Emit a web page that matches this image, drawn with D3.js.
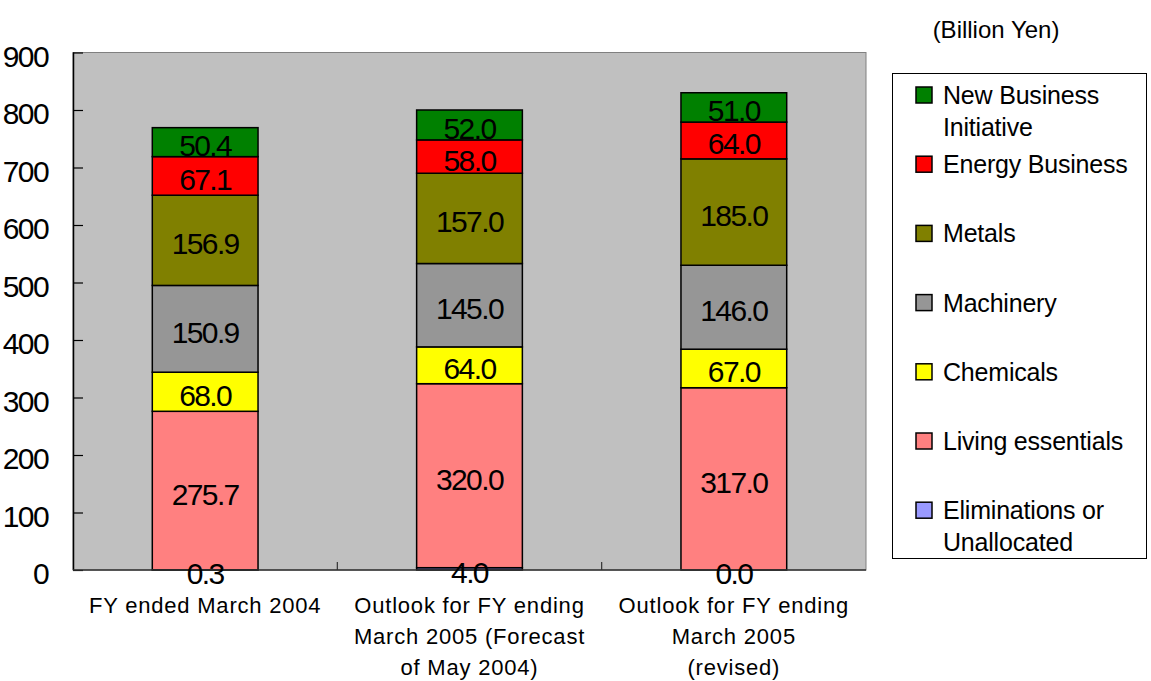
<!DOCTYPE html>
<html>
<head>
<meta charset="utf-8">
<script src="https://cdn.jsdelivr.net/npm/d3@7"></script>
<style>
  html, body { margin: 0; padding: 0; background: #fff; }
  svg { display: block; font-family: "Liberation Sans", Arial, sans-serif; }
</style>
</head>
<body>
<svg id="chart" width="1151" height="681"></svg>
<script>
// ---- Data ----
const categories = [
  "FY ended March 2004",
  "Outlook for FY ending March 2005 (Forecast of May 2004)",
  "Outlook for FY ending March 2005 (revised)"
];
const categoryLines = [
  ["FY ended March 2004"],
  ["Outlook for FY ending", "March 2005 (Forecast", "of May 2004)"],
  ["Outlook for FY ending", "March 2005", "(revised)"]
];
const seriesNames = ["Eliminations or Unallocated", "Living essentials", "Chemicals", "Machinery", "Metals", "Energy Business", "New Business Initiative"];
const eliminations = [0.3, 4.0, 0.0];
const livingEssentials = [275.7, 320.0, 317.0];
const chemicals = [68.0, 64.0, 67.0];
const machinery = [150.9, 145.0, 146.0];
const metals = [156.9, 157.0, 185.0];
const energyBusiness = [67.1, 58.0, 64.0];
const newBusiness = [50.4, 52.0, 51.0];
const seriesColors = ["#9999FF", "#FF8080", "#FFFF00", "#969696", "#808000", "#FF0000", "#008000"];
const yTicks = [0, 100, 200, 300, 400, 500, 600, 700, 800, 900];
const unitLabel = "(Billion Yen)";
const legendOrder = ["New Business Initiative", "Energy Business", "Metals", "Machinery", "Chemicals", "Living essentials", "Eliminations or Unallocated"];
const legendLines = {
  "New Business Initiative": ["New Business", "Initiative"],
  "Energy Business": ["Energy Business"],
  "Metals": ["Metals"],
  "Machinery": ["Machinery"],
  "Chemicals": ["Chemicals"],
  "Living essentials": ["Living essentials"],
  "Eliminations or Unallocated": ["Eliminations or", "Unallocated"]
};

const seriesValues = [eliminations, livingEssentials, chemicals, machinery, metals, energyBusiness, newBusiness];
const table = categories.map((c, i) => {
  const row = { category: c };
  seriesNames.forEach((s, k) => row[s] = seriesValues[k][i]);
  return row;
});

// ---- Layout ----
const svg = d3.select("#chart");
const plot = { left: 73, right: 866, top: 52.5, bottom: 570 };

const x = d3.scaleBand().domain(categories)
  .range([plot.left, plot.right]).paddingInner(0.6).paddingOuter(0.3);
const y = d3.scaleLinear().domain([0, 900]).range([plot.bottom, plot.top]);
const color = d3.scaleOrdinal().domain(seriesNames).range(seriesColors);

// plot background
svg.append("rect")
  .attr("x", plot.left).attr("y", plot.top)
  .attr("width", plot.right - plot.left).attr("height", plot.bottom - plot.top)
  .attr("fill", "#C0C0C0").attr("stroke", "#808080").attr("stroke-width", 1);

// stacked bars
const stack = d3.stack().keys(seriesNames);
const stacked = stack(table);

const layers = svg.append("g").selectAll("g").data(stacked).join("g")
  .attr("fill", d => color(d.key));
layers.selectAll("rect").data(d => d).join("rect")
  .attr("x", d => x(d.data.category))
  .attr("width", x.bandwidth())
  .attr("y", d => y(d[1]))
  .attr("height", d => y(d[0]) - y(d[1]))
  .attr("stroke", "#000").attr("stroke-width", 1.5);

// y axis
const yAxis = d3.axisRight(y).tickValues(yTicks).tickSize(10).tickFormat("");
const yg = svg.append("g").attr("transform", `translate(${plot.left},0)`).call(yAxis);
yg.select(".domain").attr("stroke", "#000").attr("stroke-width", 1.5).attr("d", `M0.5,${plot.top}V${plot.bottom}`);
yg.selectAll(".tick line").attr("stroke", "#000").attr("stroke-width", 1.2);

svg.append("g").selectAll("text").data(yTicks).join("text")
  .attr("x", 48).attr("y", d => y(d) + 14)
  .attr("text-anchor", "end")
  .attr("font-size", 30).attr("letter-spacing", -1.6)
  .text(d => d);

// x axis line
svg.append("line")
  .attr("x1", plot.left).attr("x2", plot.right)
  .attr("y1", plot.bottom).attr("y2", plot.bottom)
  .attr("stroke", "#333").attr("stroke-width", 1.5);
// category separator ticks
const step = x.step();
const sepPositions = categories.slice(1).map(c => x(c) - (step - x.bandwidth()) / 2);
svg.append("g").selectAll("line").data(sepPositions).join("line")
  .attr("x1", d => d).attr("x2", d => d)
  .attr("y1", plot.bottom).attr("y2", plot.bottom - 8)
  .attr("stroke", "#333").attr("stroke-width", 1.2);

// value labels
const labelG = svg.append("g");
stacked.forEach(layer => {
  layer.forEach(d => {
    const cy = (y(d[0]) + y(d[1])) / 2;
    labelG.append("text")
      .attr("x", x(d.data.category) + x.bandwidth() / 2)
      .attr("y", cy + 14)
      .attr("text-anchor", "middle")
      .attr("font-size", 30).attr("letter-spacing", -1.6)
      .attr("fill", "#000")
      .text(d3.format(".1f")(d.data[layer.key]));
  });
});

// category labels
categories.forEach((c, i) => {
  const t = svg.append("text")
    .attr("text-anchor", "middle")
    .attr("font-size", 22).attr("letter-spacing", 0.8);
  categoryLines[i].forEach((line, j) => {
    t.append("tspan")
      .attr("x", x(c) + x.bandwidth() / 2)
      .attr("y", 613 + j * 31)
      .text(line);
  });
});

// unit label
svg.append("text")
  .attr("x", 996).attr("y", 38)
  .attr("text-anchor", "middle")
  .attr("font-size", 24)
  .text(unitLabel);

// legend
const legend = svg.append("g");
legend.append("rect")
  .attr("x", 892.5).attr("y", 73.5).attr("width", 254).attr("height", 485)
  .attr("fill", "#fff").attr("stroke", "#000").attr("stroke-width", 1);
legendOrder.forEach((name, i) => {
  const cy = 95 + i * 69.2;
  legend.append("rect")
    .attr("x", 916).attr("y", cy - 8).attr("width", 16).attr("height", 16)
    .attr("fill", color(name)).attr("stroke", "#000").attr("stroke-width", 1.5);
  const t = legend.append("text")
    .attr("font-size", 25).attr("letter-spacing", -0.2);
  legendLines[name].forEach((line, j) => {
    t.append("tspan").attr("x", 943).attr("y", cy + 9 + j * 32).text(line);
  });
});
</script>
</body>
</html>
